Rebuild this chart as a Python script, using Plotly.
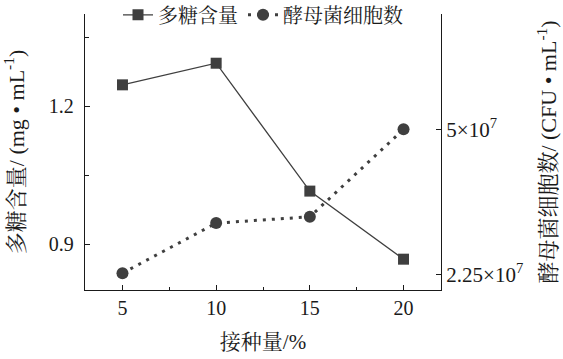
import plotly.graph_objects as go

inoculum = [5, 10, 15, 20]
polysaccharide = [1.246, 1.293, 1.015, 0.867]
yeast_cells = [2.27e7, 3.22e7, 3.34e7, 5.0e7]

right_tickvals = [2.25e7, 5e7]
right_ticktext = ["2.25×10<sup>7</sup>", "5×10<sup>7</sup>"]

FONT = "Liberation Serif, Times New Roman, Noto Serif CJK SC, Noto Sans CJK SC, serif"
C = "#3f3f3f"

fig = go.Figure()
fig.add_trace(go.Scatter(
    x=inoculum, y=polysaccharide, name="多糖含量", mode="lines+markers",
    line=dict(color=C, width=1.3), marker=dict(symbol="square", size=11, color=C),
))
fig.add_trace(go.Scatter(
    x=inoculum, y=yeast_cells, name="酵母菌细胞数", mode="lines+markers", yaxis="y2",
    line=dict(color=C, width=3, dash="3px,6px"), marker=dict(symbol="circle", size=12, color=C),
))

fig.update_layout(
    width=563, height=359,
    margin=dict(l=85, r=122, t=14, b=69, autoexpand=False),
    paper_bgcolor="white", plot_bgcolor="white",
    font=dict(family=FONT, size=20, color="#1a1a1a"),
    showlegend=True,
    legend=dict(orientation="h", x=0.5, xanchor="center", y=0.997, yanchor="middle",
                bgcolor="rgba(0,0,0,0)", font=dict(size=20), itemwidth=30,
                tracegroupgap=0),
    xaxis=dict(
        range=[3, 22], tickvals=inoculum, ticks="inside", ticklen=5, tickwidth=1,
        tickcolor="#1a1a1a", showline=True, linecolor="#1a1a1a", linewidth=1.3,
        showgrid=False, zeroline=False, mirror=False,
        minor=dict(tickvals=[7.5, 12.5, 17.5], ticks="inside", ticklen=3, tickcolor="#1a1a1a"),
        title=dict(text="接种量/%", standoff=16, font=dict(size=21)),
    ),
    yaxis=dict(
        range=[0.8, 1.4], tickvals=[0.9, 1.2], ticktext=["0.9", "1.2"],
        ticks="inside", ticklen=5, tickcolor="#1a1a1a", ticklabelstandoff=6,
        showline=True, linecolor="#1a1a1a", linewidth=1.3, showgrid=False, zeroline=False,
        minor=dict(tickvals=[1.05, 1.35], ticks="inside", ticklen=4, tickcolor="#1a1a1a"),
        title=dict(text="多糖含量/ (mg • mL<sup>-1</sup>)", standoff=18, font=dict(size=22)),
    ),
    yaxis2=dict(
        overlaying="y", side="right", range=[1.95e7, 7.19e7],
        tickvals=right_tickvals, ticktext=right_ticktext, tickfont=dict(size=21),
        ticks="inside", ticklen=5, tickcolor="#1a1a1a",
        showline=True, linecolor="#1a1a1a", linewidth=1.3, showgrid=False, zeroline=False,
        title=dict(text="酵母菌细胞数/ (CFU • mL<sup>-1</sup>)", standoff=18, font=dict(size=22)),
    ),
)

fig.write_html("out.html", config={"displayModeBar": False},
               post_script="document.body.style.margin='0';")
